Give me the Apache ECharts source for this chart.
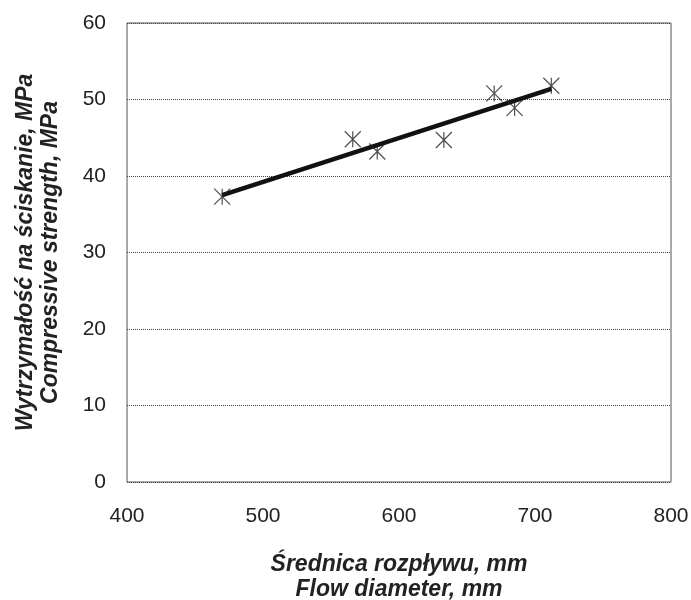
<!DOCTYPE html>
<html><head><meta charset="utf-8">
<script src="https://cdn.jsdelivr.net/npm/echarts@6/dist/echarts.min.js"></script>
<style>html,body{margin:0;padding:0;background:#fff}#c{width:691px;height:600px}</style>
</head><body><div id="c"></div>
<script>
const flowDiameter = [470, 566, 584, 633, 670, 685, 712];
const strength = [37.3, 44.8, 43.2, 44.7, 50.8, 48.9, 51.8];
const trendX = [470, 712];
const trendY = [37.5, 51.4];
const xTicks = [400, 500, 600, 700, 800];
const yTicks = [0, 10, 20, 30, 40, 50, 60];
const xTitle = 'Średnica rozpływu, mm\nFlow diameter, mm';
const yTitle = 'Wytrzymałość na ściskanie, MPa\nCompressive strength, MPa';

const chart = echarts.init(document.getElementById('c'));
const font = '"Liberation Sans", Arial, sans-serif';
chart.setOption({
  animation: false,
  grid: {left: 127, right: 20, top: 23, bottom: 118, show: true, borderColor: '#555', borderWidth: 1,
         containLabel: false, outerBoundsMode: 'none'},
  xAxis: {
    type: 'value', min: xTicks[0], max: xTicks[xTicks.length-1], interval: 100,
    axisLine: {show: false}, axisTick: {show: false}, splitLine: {show: false},
    axisLabel: {color: '#222', fontSize: 21, fontFamily: font, margin: 24},
    name: xTitle, nameLocation: 'middle', nameGap: 70,
    nameTextStyle: {color: '#222', fontSize: 23, fontWeight: 'bold', fontStyle: 'italic', fontFamily: font, lineHeight: 25}
  },
  yAxis: {
    type: 'value', min: yTicks[0], max: yTicks[yTicks.length-1], interval: 10,
    axisLine: {show: false}, axisTick: {show: false},
    splitLine: {show: true, lineStyle: {color: '#444', type: [1, 1], width: 1}},
    axisLabel: {color: '#222', fontSize: 21, fontFamily: font, margin: 21},
    name: yTitle, nameLocation: 'middle', nameGap: 64, nameRotate: 90,
    nameTextStyle: {color: '#222', fontSize: 23, fontWeight: 'bold', fontStyle: 'italic', fontFamily: font, lineHeight: 25}
  },
  series: [
    {
      type: 'line', data: trendX.map((x, i) => [x, trendY[i]]),
      showSymbol: false, lineStyle: {color: '#111', width: 4.5}, z: 2
    },
    {
      type: 'scatter', data: flowDiameter.map((x, i) => [x, strength[i]]),
      symbol: 'path://M0,0L10,10M10,0L0,10M5,0L5,10', symbolSize: [16, 16],
      itemStyle: {color: 'none', borderColor: '#222', borderWidth: 1.2}, z: 3
    }
  ]
});
</script></body></html>
